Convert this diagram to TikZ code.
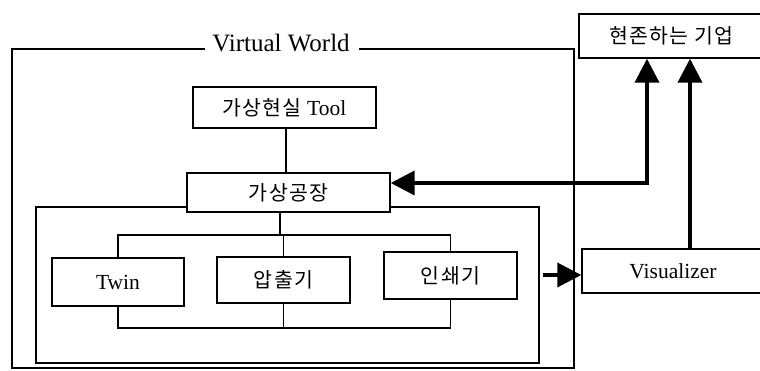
\documentclass[tikz,border=0pt]{standalone}
\usepackage{fontspec}
\setmainfont{Liberation Serif}
\newfontfamily\kr[LetterSpace=6]{Noto Sans CJK KR}
\usetikzlibrary{arrows.meta}
\begin{document}
\begin{tikzpicture}[x=1pt,y=-1pt,
  box/.style={draw, line width=1.4pt, fill=white, inner sep=0pt,
    font=\fontsize{21.5}{25}\selectfont},
  krt/.style={font=\kr\fontsize{20.5}{24}\selectfont},
  thinline/.style={line width=1.4pt},
  bigarrow/.style={line width=3.8pt, -{Triangle[length=24pt,width=24pt]}},
  botharrow/.style={line width=3.8pt, {Triangle[length=24pt,width=24pt]}-{Triangle[length=24pt,width=24pt]}},
  ]
\useasboundingbox (0,0) rectangle (760,371);
\clip (0,0) rectangle (760,371);
\fill[white] (0,0) rectangle (760,371);

% outer Virtual World frame
\node[inner sep=0pt, font=\fontsize{25}{29}\selectfont] (vw) at (281,43) {Virtual World};
\coordinate (oTL) at (12,49);
\coordinate (oBR) at (574,368);
\draw[thinline] ([xshift=-7pt]vw.west |- oTL) -- (oTL) |- (oBR) |- ([xshift=9pt]vw.east |- oTL);

% inner frame
\node[draw, line width=1.4pt, minimum width=503, minimum height=156, inner sep=0pt] (inner) at (287.5,285) {};

% boxes
\node[box, minimum width=183, minimum height=41] (tool) at (284.5,107.5) {{\kr\fontsize{20.5}{24}\selectfont 가상현실} Tool};
\node[box, krt, minimum width=203, minimum height=39] (factory) at (288.5,192.5) {가상공장};
\node[box, minimum width=132, minimum height=48] (twin) at (118,282) {Twin};
\node[box, krt, minimum width=133, minimum height=46] (extr) at (283.5,280) {압출기};
\node[box, krt, minimum width=133, minimum height=47] (printer) at (450.5,275.5) {인쇄기};
\node[box, krt, minimum width=185, minimum height=44] (company) at (671.5,36) {현존하는 기업};
\node[box, minimum width=182, minimum height=44] (vis) at (673,271) {Visualizer};

% tree connections
\coordinate (vt) at (286,0);
\coordinate (busT) at (280,235);
\coordinate (busB) at (280,328);
\draw[thinline] (tool.south -| vt) -- (factory.north -| vt);
\draw[thinline] (factory.south -| busT) -- (busT);
\draw[thinline] (twin.north) |- (printer.north |- busT) -- (printer.north);
\draw[thinline] (extr.north) -- (extr.north |- busT);
\draw[thinline] (twin.south) |- (printer.south |- busB) -- (printer.south);
\draw[thinline] (extr.south) -- (extr.south |- busB);

% thick arrows
\coordinate (c1) at (647,183);
\coordinate (c2) at (690,0);
\coordinate (c3) at (0,275);
\draw[botharrow] (factory.east |- c1) -| (company.south -| c1);
\draw[bigarrow] (vis.north -| c2) -- (company.south -| c2);
\draw[bigarrow] ([xshift=3pt]inner.east |- c3) -- (vis.west |- c3);
\end{tikzpicture}
\end{document}
